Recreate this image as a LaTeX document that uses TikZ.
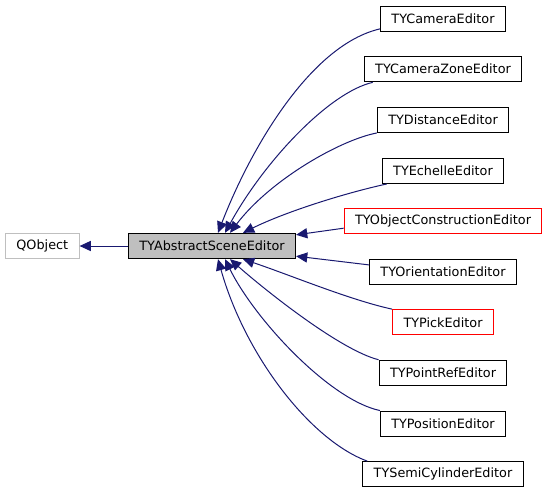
\documentclass[tikz,border=0pt]{standalone}
\usepackage{fontspec}
\setmainfont{DejaVu Sans}
\usetikzlibrary{arrows.meta,calc}
\definecolor{edgeblue}{HTML}{191970}
\definecolor{grey75}{HTML}{BFBFBF}

\begin{document}
\begin{tikzpicture}[
  x=0.75pt, y=-0.75pt,
  cls/.style={draw, font=\fontsize{9.6}{11}\selectfont, minimum height=19pt, inner xsep=8.2pt, inner ysep=0pt, line width=0.75pt},
  basecls/.style={cls, fill=grey75},
  extcls/.style={cls, draw=grey75},
  redcls/.style={cls, draw=red},
  inh/.style={-{Triangle[length=8.4pt, width=7.6pt]}, edgeblue, line width=0.75pt}]
\useasboundingbox (0,0) rectangle (548,493);
\node[extcls] (qobj) at (42.3,246) {QObject};
\node[basecls] (base) at (212,246) {TYAbstractSceneEditor};
\node[cls] (cam) at (443,18.7) {TYCameraEditor};
\node[cls] (zone) at (443,69.2) {TYCameraZoneEditor};
\node[cls] (dist) at (443,119.8) {TYDistanceEditor};
\node[cls] (ech) at (443,170.8) {TYEchelleEditor};
\node[redcls] (obj) at (443,221.2) {TYObjectConstructionEditor};
\node[cls] (orient) at (443,271.9) {TYOrientationEditor};
\node[redcls] (pick) at (443,322.3) {TYPickEditor};
\node[cls] (pref) at (443,372.9) {TYPointRefEditor};
\node[cls] (pos) at (443,423.7) {TYPositionEditor};
\node[cls] (semi) at (443,474.3) {TYSemiCylinderEditor};
% base class
\draw[inh] (base) -- (qobj);
% derived classes above
\draw[inh] ($(cam.south west)+(0,-3)$) .. controls (310,45) and (250,150) .. ($(base.north)+(6,0)$);
\draw[inh] ($(zone.south west)+(9,0)$) .. controls (330,92) and (265,160) .. ($(base.north)+(13,0)$);
\draw[inh] (dist.south west) .. controls (340,140) and (270,180) .. ($(base.north)+(18,0)$);
\draw[inh] ($(ech.south west)+(5,0)$) .. controls (345,193) and (285,212) .. ($(base.north)+(31,0)$);
\draw[inh] ($(obj.west)+(0,7)$) -- ($(base.north east)+(0,2)$);
\draw[inh] ($(orient.west)+(0,-7)$) -- ($(base.south east)+(0,-3)$);
% derived classes below
\draw[inh] (pick.north west) .. controls (350,300) and (290,275) .. ($(base.south)+(31,0)$);
\draw[inh] (pref.north west) .. controls (340,350) and (265,290) .. ($(base.south)+(18,0)$);
\draw[inh] (pos.north west) .. controls (330,400) and (255,320) .. ($(base.south)+(13,0)$);
\draw[inh] ($(semi.north west)+(5,0)$) .. controls (310,440) and (245,355) .. ($(base.south)+(6,0)$);
\end{tikzpicture}
\end{document}
